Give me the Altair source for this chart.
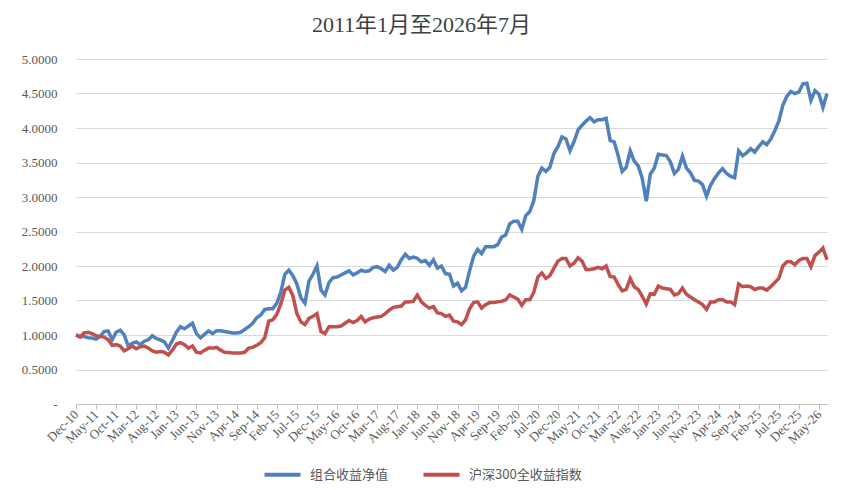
import altair as alt
import pandas as pd

# Month labels (Dec-10 .. Jul-26)
months = pd.date_range("2010-12-01", periods=188, freq="MS").strftime("%b-%y").tolist()

series_names = ["组合收益净值", "沪深300全收益指数"]

portfolio = [
    1.00, 0.98, 0.98, 0.96, 0.955, 0.94, 0.98, 1.05, 1.06, 0.93,
    1.04, 1.07, 1.00, 0.84, 0.88, 0.90, 0.86, 0.91, 0.93, 0.99,
    0.95, 0.93, 0.90, 0.81, 0.92, 1.04, 1.12, 1.09, 1.13, 1.17,
    1.02, 0.96, 1.01, 1.06, 1.02, 1.06, 1.06, 1.05, 1.04, 1.03,
    1.03, 1.04, 1.08, 1.12, 1.17, 1.25, 1.29, 1.37, 1.38, 1.38,
    1.46, 1.62, 1.88, 1.94, 1.86, 1.74, 1.54, 1.46, 1.78, 1.88,
    2.00, 1.65, 1.58, 1.76, 1.83, 1.84, 1.87, 1.90, 1.93, 1.87,
    1.90, 1.94, 1.92, 1.93, 1.98, 1.99, 1.96, 1.92, 2.01, 1.94,
    1.98, 2.09, 2.17, 2.11, 2.13, 2.11, 2.06, 2.08, 2.01, 2.09,
    1.97, 2.00, 1.89, 1.88, 1.71, 1.75, 1.64, 1.69, 1.93, 2.14,
    2.24, 2.18, 2.28, 2.28, 2.28, 2.31, 2.42, 2.45, 2.61, 2.65,
    2.65, 2.53, 2.73, 2.79, 2.95, 3.30, 3.42, 3.37, 3.43, 3.63,
    3.73, 3.87, 3.84, 3.67, 3.80, 3.97, 4.04, 4.10, 4.15, 4.09,
    4.12, 4.12, 4.14, 3.82, 3.80, 3.60, 3.37, 3.43, 3.67, 3.52,
    3.45, 3.27, 2.94, 3.33, 3.42, 3.62, 3.61, 3.60, 3.51, 3.34,
    3.40, 3.59, 3.42, 3.35, 3.24, 3.23, 3.18, 3.01, 3.17, 3.27,
    3.35, 3.41, 3.34, 3.30, 3.28, 3.67, 3.60, 3.64, 3.70, 3.65,
    3.73, 3.80, 3.76, 3.84, 3.96, 4.10, 4.33, 4.46, 4.53, 4.50,
    4.52, 4.64, 4.65, 4.40, 4.54, 4.49, 4.30, 4.50,
]

csi300 = [
    1.00, 0.97, 1.03, 1.04, 1.02, 0.99, 0.98, 0.97, 0.93, 0.85,
    0.86, 0.84, 0.77, 0.80, 0.84, 0.80, 0.83, 0.84, 0.81, 0.77,
    0.75, 0.76, 0.75, 0.71, 0.78, 0.87, 0.89, 0.86, 0.81, 0.84,
    0.75, 0.74, 0.78, 0.81, 0.81, 0.82, 0.78, 0.75, 0.745, 0.74,
    0.74, 0.74, 0.75, 0.81, 0.82, 0.85, 0.89, 0.96, 1.20, 1.22,
    1.30, 1.45, 1.65, 1.69, 1.57, 1.31, 1.19, 1.15, 1.24, 1.27,
    1.31, 1.05, 1.02, 1.12, 1.12, 1.12, 1.13, 1.17, 1.21, 1.18,
    1.21, 1.27, 1.19, 1.23, 1.25, 1.26, 1.27, 1.31, 1.36, 1.40,
    1.41, 1.42, 1.48, 1.48, 1.49, 1.58, 1.48, 1.43, 1.39, 1.41,
    1.32, 1.31, 1.27, 1.29, 1.20, 1.19, 1.15, 1.22, 1.38, 1.47,
    1.48, 1.39, 1.44, 1.47, 1.47, 1.48, 1.49, 1.51, 1.58, 1.55,
    1.52, 1.43, 1.51, 1.51, 1.62, 1.84, 1.90, 1.82, 1.86, 1.97,
    2.07, 2.11, 2.11, 2.00, 2.04, 2.12, 2.07, 1.95, 1.95, 1.96,
    1.98, 1.96, 2.00, 1.85, 1.84, 1.73, 1.64, 1.66, 1.82, 1.70,
    1.66, 1.56, 1.45, 1.60, 1.59, 1.71, 1.68, 1.67, 1.66, 1.58,
    1.60, 1.68, 1.59, 1.55, 1.51, 1.48, 1.44, 1.37, 1.48, 1.48,
    1.51, 1.51, 1.48, 1.48, 1.44, 1.74, 1.70, 1.71, 1.70, 1.66,
    1.68, 1.68, 1.65, 1.70, 1.76, 1.82, 2.00, 2.06, 2.06, 2.02,
    2.08, 2.11, 2.11, 1.99, 2.15, 2.20, 2.26, 2.09,
]

y_ticks = [0, 0.5, 1.0, 1.5, 2.0, 2.5, 3.0, 3.5, 4.0, 4.5, 5.0]
x_ticks = months[::5]
colors = ["#4F81BD", "#C0504D"]

df = pd.concat([
    pd.DataFrame({"month": months, "series": series_names[0], "value": portfolio, "order": range(len(months))}),
    pd.DataFrame({"month": months, "series": series_names[1], "value": csi300, "order": range(len(months))}),
])

serif = "'Liberation Serif', 'Noto Sans CJK SC'"
text_color = "#595959"
nb = "\u00a0" * 10

chart = alt.Chart(df).mark_line(strokeWidth=3.5).encode(
    x=alt.X(
        "month:O",
        sort=None,
        scale=alt.Scale(padding=0),
        axis=alt.Axis(
            values=x_ticks,
            labelAngle=-45,
            labelAlign="right",
            labelBaseline="middle",
            title=None,
            grid=False,
            tickSize=5,
            tickColor="#bfbfbf",
            domainColor="#bfbfbf",
            labelFont=serif,
            labelFontSize=13,
            labelColor=text_color,
            labelPadding=3,
        ),
    ),
    y=alt.Y(
        "value:Q",
        scale=alt.Scale(domain=[0, 5]),
        axis=alt.Axis(
            values=y_ticks,
            labelExpr=f"datum.value == 0 ? '-{nb}' : format(datum.value, '.4f')",
            title=None,
            domain=False,
            ticks=False,
            tickSize=0,
            gridColor="#d9d9d9",
            labelFont=serif,
            labelFontSize=13,
            labelColor=text_color,
            labelPadding=19,
        ),
    ),
    color=alt.Color(
        "series:N",
        scale=alt.Scale(domain=series_names, range=colors),
        legend=alt.Legend(
            title=None,
            orient="none",
            legendX=186,
            legendY=395,
            direction="horizontal",
            symbolType="stroke",
            symbolSize=1300,
            symbolStrokeWidth=4,
            labelFont="'Noto Sans CJK SC'",
            labelFontSize=13,
            labelColor=text_color,
            labelOffset=7,
            columnPadding=26,
            padding=0,
        ),
    ),
    order="order:Q",
).properties(
    width=751,
    height=345,
    title=alt.TitleParams(
        "2011年1月至2026年7月",
        font=serif,
        fontSize=22,
        fontWeight="normal",
        color="#404040",
        dx=-30,
        offset=16,
    ),
    autosize=alt.AutoSizeParams(type="none"),
    padding={"left": 68, "top": 51, "right": 7, "bottom": 78},
).configure_view(stroke=None)

chart.save("out.html", embed_options={"renderer": "svg", "actions": False})
